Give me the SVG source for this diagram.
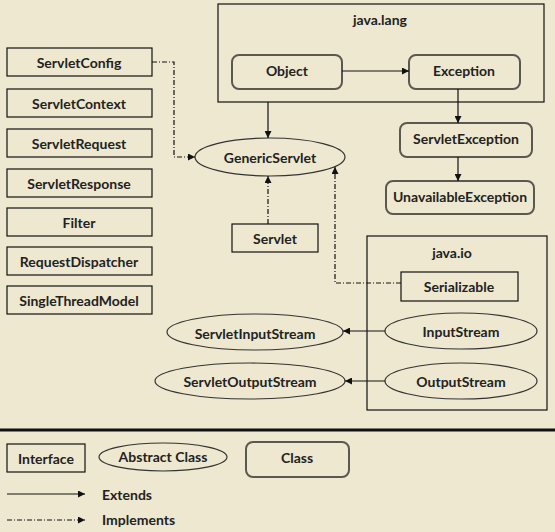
<svg xmlns="http://www.w3.org/2000/svg" width="555" height="532" viewBox="0 0 555 532">
<style>
text{font-family:"Lato","Open Sans","Liberation Sans",sans-serif;font-weight:bold;font-size:14px;fill:#222;text-anchor:middle;dominant-baseline:central}
.iface{fill:none;stroke:#111;stroke-width:1.2}
.cls{fill:none;stroke:#5a5850;stroke-width:2}
.abs{fill:none;stroke:#333;stroke-width:1.2}
.pkg{fill:none;stroke:#111;stroke-width:1.2}
.ext{fill:none;stroke:#111;stroke-width:1.2;marker-end:url(#arr)}
.impl{fill:none;stroke:#111;stroke-width:1.2;stroke-dasharray:5 2 1 2;marker-end:url(#arr)}
</style>
<defs>
<marker id="arr" viewBox="0 0 10 10" refX="10" refY="5" markerWidth="7" markerHeight="7" markerUnits="userSpaceOnUse" orient="auto">
<path d="M0,0 L10,5 L0,10 z" fill="#111"/>
</marker>
</defs>
<rect width="555" height="532" fill="#eee8d0"/>

<g id="pkg-java-lang">
<rect class="pkg" x="218" y="4" width="326" height="98"/>
<text x="380" y="19">java.lang</text>
</g>
<g id="pkg-java-io">
<rect class="pkg" x="367" y="236" width="180" height="174"/>
<text x="452" y="252">java.io</text>
</g>

<g id="ServletConfig"><rect class="iface" x="7" y="48" width="145" height="28"/><text x="79" y="62">ServletConfig</text></g>
<g id="ServletContext"><rect class="iface" x="7" y="89" width="145" height="28"/><text x="79" y="103">ServletContext</text></g>
<g id="ServletRequest"><rect class="iface" x="7" y="129" width="145" height="28"/><text x="79" y="143">ServletRequest</text></g>
<g id="ServletResponse"><rect class="iface" x="7" y="169" width="145" height="28"/><text x="79" y="183">ServletResponse</text></g>
<g id="Filter"><rect class="iface" x="7" y="208" width="145" height="28"/><text x="79" y="222">Filter</text></g>
<g id="RequestDispatcher"><rect class="iface" x="7" y="247" width="145" height="28"/><text x="79" y="261">RequestDispatcher</text></g>
<g id="SingleThreadModel"><rect class="iface" x="7" y="286" width="145" height="28"/><text x="79" y="300">SingleThreadModel</text></g>

<g id="Object"><rect class="cls" x="232" y="55" width="110" height="34" rx="7"/><text x="287" y="70">Object</text></g>
<g id="Exception"><rect class="cls" x="409" y="55" width="111" height="34" rx="7"/><text x="464" y="70">Exception</text></g>
<g id="ServletException"><rect class="cls" x="400" y="123" width="132" height="34" rx="7"/><text x="466" y="138">ServletException</text></g>
<g id="UnavailableException"><rect class="cls" x="386" y="181" width="148" height="33" rx="7"/><text x="460" y="196">UnavailableException</text></g>

<g id="GenericServlet"><ellipse class="abs" cx="270" cy="157" rx="75" ry="19"/><text x="270" y="157">GenericServlet</text></g>
<g id="Servlet"><rect class="iface" x="232" y="224" width="86" height="28"/><text x="275" y="238">Servlet</text></g>
<g id="Serializable"><rect class="iface" x="401" y="272" width="117" height="29"/><text x="459" y="286">Serializable</text></g>
<g id="InputStream"><ellipse class="abs" cx="461" cy="331" rx="76" ry="18"/><text x="461" y="331">InputStream</text></g>
<g id="OutputStream"><ellipse class="abs" cx="461" cy="381" rx="76" ry="18"/><text x="461" y="381">OutputStream</text></g>
<g id="ServletInputStream"><ellipse class="abs" cx="255" cy="332" rx="88" ry="18"/><text x="255" y="333">ServletInputStream</text></g>
<g id="ServletOutputStream"><ellipse class="abs" cx="250" cy="381" rx="95" ry="18"/><text x="250" y="381">ServletOutputStream</text></g>

<g id="connectors">
<path class="ext" d="M342,71 H409"/>
<path class="ext" d="M268,102 V138"/>
<path class="ext" d="M458,89 V123"/>
<path class="ext" d="M458,157 V181"/>
<path class="impl" d="M152,62 H174 V157 H195"/>
<path class="impl" d="M268,224 V176"/>
<path class="impl" d="M401,283 H335 V167"/>
<path class="ext" d="M385,331 H343"/>
<path class="ext" d="M385,381 H345"/>
</g>

<g id="separator"><line x1="0" y1="430" x2="555" y2="430" stroke="#111" stroke-width="3"/></g>

<g id="legend">
<rect class="iface" x="7" y="444" width="78" height="28"/><text x="46" y="458">Interface</text>
<ellipse class="abs" cx="163" cy="457" rx="64" ry="14"/><text x="163" y="456">Abstract Class</text>
<rect class="cls" x="246" y="442" width="103" height="35" rx="7"/><text x="297" y="457">Class</text>
<path class="ext" d="M7,494 H85"/><text x="102" y="494" style="text-anchor:start">Extends</text>
<path class="impl" d="M7,520 H85"/><text x="102" y="519" style="text-anchor:start">Implements</text>
</g>
</svg>
